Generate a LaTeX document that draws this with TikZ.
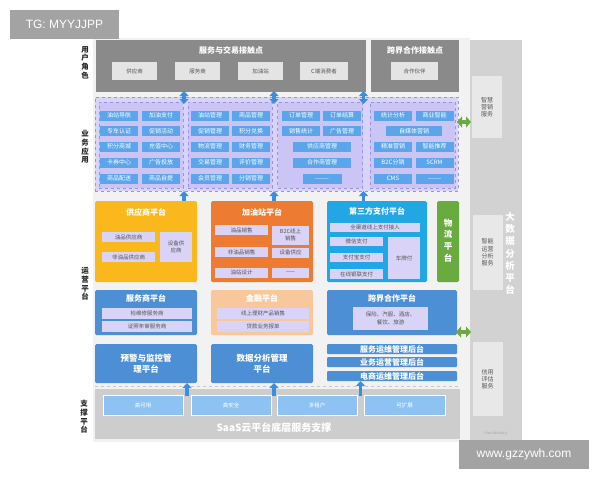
\documentclass[tikz,border=0pt]{standalone}
\usepackage{fontspec}
\setmainfont{Noto Sans CJK SC}
\newfontfamily\wmfont{Liberation Sans}
\usetikzlibrary{arrows.meta}
\definecolor{topgray}{HTML}{8A8A8A}
\definecolor{boxgray}{HTML}{E4E4E4}
\definecolor{panelgray}{HTML}{D2D2D2}
\definecolor{panelbox}{HTML}{E8E8E8}
\definecolor{bggray}{HTML}{F2F2F2}
\definecolor{applav}{HTML}{D8D4F8}
\definecolor{grplav}{HTML}{CBC5F5}
\definecolor{lavline}{HTML}{9A90E4}
\definecolor{appblue}{HTML}{5AA5EC}
\definecolor{cellav}{HTML}{D8D3F7}
\definecolor{txtgray}{HTML}{555555}
\definecolor{supyel}{HTML}{FBB81C}
\definecolor{gasora}{HTML}{EE7B32}
\definecolor{paycyan}{HTML}{22A7E5}
\definecolor{loggreen}{HTML}{6AAB40}
\definecolor{platblue}{HTML}{4D8FD5}
\definecolor{finpeach}{HTML}{F8C89C}
\definecolor{basegray}{HTML}{CDCDCD}
\definecolor{basecell}{HTML}{8EC2F2}
\definecolor{arrblue}{HTML}{3B8EDF}
\definecolor{wmgray}{HTML}{A3A3A3}

\begin{document}
\begin{tikzpicture}[x=1pt, y=-1pt,
  every node/.style={inner sep=0pt, outer sep=0pt},
  tinyf/.style={font=\fontsize{5.5}{6.6}\selectfont},
  appcell/.style={fill=appblue, text=white, font=\fontsize{6}{7}\selectfont, minimum width=38pt, minimum height=10pt},
  lavcell/.style={fill=cellav, text=txtgray, tinyf, minimum height=10pt, align=center},
  topcell/.style={fill=boxgray, text=txtgray, tinyf, minimum width=45pt, minimum height=18pt},
  sidecell/.style={fill=panelbox, text=txtgray, font=\fontsize{6}{7.2}\selectfont, minimum width=30pt, align=center},
  plat/.style={rounded corners=1.5pt, minimum width=102pt},
  ptitle/.style={text=white, font=\bfseries\fontsize{8}{9.5}\selectfont, align=center},
  sidelabel/.style={text=black!85, font=\bfseries\fontsize{7.5}{8.7}\selectfont, align=center},
  grp/.style={fill=grplav, draw=lavline, dashed, minimum height=86pt},
  barrow/.style={draw=arrblue, line width=3.5pt, {Triangle[width=9pt,length=5pt]}-{Triangle[width=9pt,length=5pt]}},
  uparrow/.style={draw=arrblue, line width=3.5pt, -{Triangle[width=9pt,length=5pt]}},
  garrow/.style={draw=loggreen, line width=4.5pt, {Triangle[width=11pt,length=5pt]}-{Triangle[width=11pt,length=5pt]}, shorten <=-1pt, shorten >=-1pt}]
\useasboundingbox (0,0) rectangle (600,480);

%background
\fill[bggray] (93,38) rectangle (470,442);
\draw[gray!45, dashed] (95,386) -- (460,386);

%watermarks
\node[fill=wmgray, text=white, minimum width=109pt, minimum height=29pt, font=\wmfont\fontsize{12}{14}\selectfont] (tg) at (64.5,24.5) {TG: MYYJJPP};
\node[fill=wmgray, text=white, minimum width=130pt, minimum height=29pt, font=\wmfont\fontsize{12}{14}\selectfont] (site) at (524,454.5) {www.gzzywh.com};

%side labels
\node[sidelabel] (lbluser) at (85,62.5) {用\\户\\角\\色};
\node[sidelabel] (lblapp) at (85,147) {业\\务\\应\\用};
\node[sidelabel] (lblops) at (85,284) {运\\营\\平\\台};
\node[sidelabel] (lblbase) at (84,417) {支\\撑\\平\\台};

%touch points
\node[fill=topgray, minimum width=270pt, minimum height=52pt] (touch) at (231,66) {};
\node[ptitle] at (231,50) {服务与交易接触点};
\node[topcell] (cusup) at (134.5,71) {供应商};
\node[topcell] (cusvc) at (197.5,71) {服务商};
\node[topcell] (cugas) at (260.5,71) {加油站};
\node[topcell, minimum width=48pt] (cucon) at (324,71) {C端消费者};
\node[fill=topgray, minimum width=88pt, minimum height=52pt] (cross) at (415,66) {};
\node[ptitle] at (415,50) {跨界合作接触点};
\node[topcell, minimum width=47pt] (partner) at (414.5,71) {合作伙伴};

%big data panel
\node[fill=panelgray, minimum width=52pt, minimum height=400pt] (bigdata) at (496,240) {};
\node[text=white, font=\bfseries\fontsize{9.5}{12.2}\selectfont, align=center] at (510,253.5) {大\\数\\据\\分\\析\\平\\台};
\node[sidecell, minimum height=62pt] (smartmkt) at (487,107) {智慧\\营销\\服务};
\node[sidecell, minimum height=75pt] (smartops) at (487.5,252.5) {智能\\运营\\分析\\服务};
\node[sidecell, minimum height=74pt] (credit) at (487.5,379) {信用\\评估\\服务};
\node[text=black!35, font=\wmfont\fontsize{3.5}{4}\selectfont] at (496,434) {Eton iMWeb(s)};

%business apps
\node[fill=applav, draw=lavline, dashed, minimum width=363pt, minimum height=94pt] (app) at (276.5,144) {};
\node[grp, minimum width=84pt] (g1) at (141,145) {};
\node[grp, minimum width=84pt] (g2) at (230,145) {};
\node[grp, minimum width=85pt] (g3) at (320,145) {};
\node[grp, minimum width=85pt] (g4) at (412.5,145) {};

\node[appcell] (a11) at (119,115.5) {油站导航};
\node[appcell] (a12) at (161,115.5) {加油支付};
\node[appcell] (a13) at (119,131) {专车认证};
\node[appcell] (a14) at (161,131) {促销活动};
\node[appcell] (a15) at (119,146.5) {积分商城};
\node[appcell] (a16) at (161,146.5) {充值中心};
\node[appcell] (a17) at (119,162.5) {卡券中心};
\node[appcell] (a18) at (161,162.5) {广告投放};
\node[appcell] (a19) at (119,178.5) {商品配送};
\node[appcell] (a110) at (161,178.5) {商品自提};

\node[appcell] (a21) at (210,115.5) {油站管理};
\node[appcell] (a22) at (251,115.5) {商品管理};
\node[appcell] (a23) at (210,131) {促销管理};
\node[appcell] (a24) at (251,131) {积分兑换};
\node[appcell] (a25) at (210,146.5) {物流管理};
\node[appcell] (a26) at (251,146.5) {财务管理};
\node[appcell] (a27) at (210,162.5) {交易管理};
\node[appcell] (a28) at (251,162.5) {评价管理};
\node[appcell] (a29) at (210,178.5) {会员管理};
\node[appcell] (a210) at (251,178.5) {分销管理};

\node[appcell] (a31) at (301,115.5) {订单管理};
\node[appcell] (a32) at (342,115.5) {订单结算};
\node[appcell] (a33) at (301,131) {销售统计};
\node[appcell] (a34) at (342,131) {广告管理};
\node[appcell, minimum width=58pt] (a35) at (322,146.5) {供应商管理};
\node[appcell, minimum width=58pt] (a36) at (322,162.5) {合作商管理};
\node[appcell, minimum width=39pt] (a37) at (322,178.5) {\_\_\_\_};

\node[appcell] (a41) at (393,115.5) {统计分析};
\node[appcell] (a42) at (434.5,115.5) {商业智能};
\node[appcell, minimum width=56pt] (a43) at (414,131) {自媒体营销};
\node[appcell] (a44) at (393,146.5) {精准营销};
\node[appcell] (a45) at (434.5,146.5) {智能推荐};
\node[appcell] (a46) at (393,162.5) {B2C分销};
\node[appcell] (a47) at (434.5,162.5) {SCRM};
\node[appcell] (a48) at (393,178.5) {CMS};
\node[appcell] (a49) at (434.5,178.5) {\_\_\_\_};

%platforms, first row
\node[plat, fill=supyel, minimum height=81pt] (supP) at (146,241.5) {};
\node[ptitle] at (146,212) {供应商平台};
\node[lavcell, minimum width=53pt] (sup1) at (128.5,237) {油品供应商};
\node[lavcell, minimum width=53pt] (sup2) at (128.5,257) {非油品供应商};
\node[lavcell, minimum width=32pt, minimum height=30pt] (sup3) at (176,247) {设备供\\应商};

\node[plat, fill=gasora, minimum height=81pt] (gasP) at (262,241.5) {};
\node[ptitle] at (262,212) {加油站平台};
\node[lavcell, minimum width=53pt] (gas1) at (241.5,230) {油品销售};
\node[lavcell, minimum width=37pt, minimum height=19pt] (gas2) at (290.5,235) {B2C线上\\销售};
\node[lavcell, minimum width=53pt] (gas3) at (241.5,252) {非油品销售};
\node[lavcell, minimum width=37pt] (gas4) at (290.5,252.5) {设备供应};
\node[lavcell, minimum width=53pt] (gas5) at (241.5,272.5) {油站设计};
\node[lavcell, minimum width=37pt] (gas6) at (290.5,272.5) {------};

\node[plat, fill=paycyan, minimum width=100pt, minimum height=81pt] (payP) at (377,241.5) {};
\node[ptitle] at (377,211) {第三方支付平台};
\node[lavcell, minimum width=90pt, minimum height=9pt] (pay1) at (375,227.5) {全渠道线上支付接入};
\node[lavcell, minimum width=53pt, minimum height=9pt] (pay2) at (356.5,241.5) {微信支付};
\node[lavcell, minimum width=53pt, minimum height=9pt] (pay3) at (356.5,257.5) {支付宝支付};
\node[lavcell, minimum width=53pt, minimum height=10pt] (pay4) at (356.5,274) {在线银联支付};
\node[lavcell, minimum width=32pt, minimum height=42pt] (pay5) at (404,258) {车牌付};

\node[rounded corners=1.5pt, fill=loggreen, minimum width=22pt, minimum height=81pt] (logP) at (448,241.5) {};
\node[text=white, font=\bfseries\fontsize{8.5}{11.7}\selectfont, align=center] at (448,240.5) {物\\流\\平\\台};

%platforms, second row
\node[plat, fill=platblue, minimum height=45pt] (svcP) at (146,312.5) {};
\node[ptitle] at (146,298) {服务商平台};
\node[lavcell, minimum width=90pt, minimum height=11pt] (svc1) at (147,313.5) {检维修服务商};
\node[lavcell, minimum width=90pt, minimum height=11pt] (svc2) at (147,326.5) {证照年审服务商};

\node[plat, fill=finpeach, minimum height=45pt] (finP) at (262,312.5) {};
\node[ptitle] at (262,298) {金融平台};
\node[lavcell, minimum width=92pt, minimum height=11pt] (fin1) at (263,313.5) {线上理财产品销售};
\node[lavcell, minimum width=92pt, minimum height=11pt] (fin2) at (263,326.5) {贷款业务报单};

\node[rounded corners=1.5pt, fill=platblue, minimum width=130pt, minimum height=45pt] (crossP) at (392,312.5) {};
\node[ptitle] at (392,298) {跨界合作平台};
\node[lavcell, minimum width=75pt, minimum height=23pt, font=\fontsize{5.5}{8}\selectfont] (cross1) at (390.5,318.5) {保险、汽服、酒店、\\餐饮、旅游};

%platforms, third row
\node[plat, fill=platblue, minimum height=39pt, ptitle, font=\bfseries\fontsize{8.5}{11}\selectfont] (warnP) at (146,363.5) {预警与监控管\\理平台};
\node[plat, fill=platblue, minimum height=39pt, ptitle, font=\bfseries\fontsize{8.5}{11}\selectfont] (dataP) at (262,363.5) {数据分析管理\\平台};
\node[rounded corners=1pt, fill=platblue, minimum width=130pt, minimum height=10pt, ptitle] (ops1) at (392,349) {服务运维管理后台};
\node[rounded corners=1pt, fill=platblue, minimum width=130pt, minimum height=10pt, ptitle] (ops2) at (392,362) {业务运营管理后台};
\node[rounded corners=1pt, fill=platblue, minimum width=130pt, minimum height=10pt, ptitle] (ops3) at (392,376) {电商运维管理后台};

%support
\node[fill=basegray, minimum width=365pt, minimum height=50pt] (base) at (277.5,414) {};
\node[fill=basecell, draw=white, text=white, tinyf, minimum width=80pt, minimum height=20pt] (ha) at (143,405) {高可用};
\node[fill=basecell, draw=white, text=white, tinyf, minimum width=80pt, minimum height=20pt] (hs) at (231,405) {高安全};
\node[fill=basecell, draw=white, text=white, tinyf, minimum width=80pt, minimum height=20pt] (mt) at (317,405) {多租户};
\node[fill=basecell, draw=white, text=white, tinyf, minimum width=81pt, minimum height=20pt] (ext) at (404.5,405) {可扩展};
\node[text=white, font=\bfseries\fontsize{10}{12}\selectfont] at (274,428) {SaaS云平台底层服务支撑};

%arrows
\coordinate (gap1) at (184,0);
\coordinate (gap2) at (274,0);
\coordinate (gap3) at (363.5,0);
\coordinate (up1) at (187,396);
\coordinate (up2) at (274,396);
\coordinate (up3) at (360.5,396);
\draw[barrow] ([yshift=1pt]touch.south -| gap1) -- ([yshift=-7pt]app.north -| gap1);
\draw[barrow] ([yshift=1pt]touch.south -| gap2) -- ([yshift=-7pt]app.north -| gap2);
\draw[barrow] ([yshift=1pt]touch.south -| gap3) -- ([yshift=-7pt]app.north -| gap3);
\draw[uparrow] (supP.north -| gap1) -- (app.south -| gap1);
\draw[uparrow] (gasP.north -| gap2) -- (app.south -| gap2);
\draw[uparrow] (payP.north -| gap3) -- (app.south -| gap3);
\draw[uparrow] (up1) -- (warnP.south -| up1);
\draw[uparrow] (up2) -- (dataP.south -| up2);
\draw[uparrow] (up3) -- (ops3.south -| up3);
\draw[garrow] ([yshift=22pt]app.east) -- ([yshift=22pt]app.east -| bigdata.west);
\draw[garrow] ([yshift=-19.5pt]crossP.east) -- ([yshift=-19.5pt]crossP.east -| bigdata.west);
\end{tikzpicture}
\end{document}
